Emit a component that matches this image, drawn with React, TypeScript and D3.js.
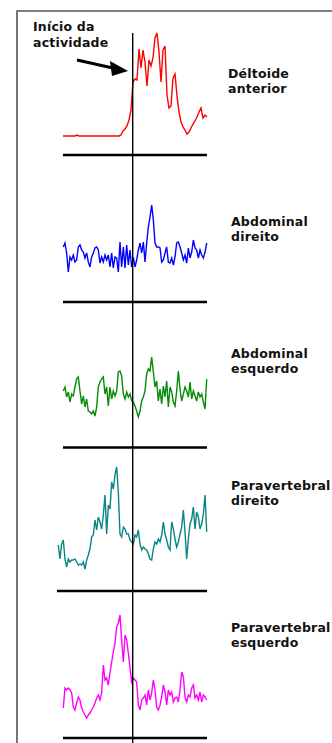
import * as d3 from 'd3';

// EMG amplitude traces (arbitrary units)
const deltoideAnterior = [
  0, 0, 0, 0, 0, 0, 0, 1, 0, 0, 0, 0, 0, 0, 0, 0, 0, 0, 0, 0, 0, 0, 0, 0, 0, 0, 0, 0, 0,
  1, 5, 7, 10, 16, 26, 54, 57, 56, 87, 68, 86, 74, 50, 76, 70, 78, 98, 103, 84,
  54, 86, 90, 41, 28, 30, 58, 62, 40, 24, 14, 9, 6, 2, 4, 8, 12, 15, 19, 24, 28, 18, 21, 19,
];
const abdominalDireito = [
  28, 32, 22, 3, 18, 15, 20, 13, 15, 28, 30, 25, 23, 17, 22, 13, 8, 18, 22, 27, 28, 25, 12, 18,
  13, 20, 15, 20, 8, 22, 7, 18, 17, 3, 33, 8, 28, 7, 30, 10, 25, 8, 18, 8, 15, 25, 32, 22, 33,
  13, 32, 48, 58, 70, 55, 32, 28, 28, 27, 13, 15, 22, 28, 13, 12, 17, 10, 18, 32, 33, 28, 22,
  15, 20, 12, 27, 17, 23, 35, 27, 25, 17, 25, 20, 17, 23, 32,
];
const abdominalEsquerdo = [
  29, 33, 23, 28, 18, 26, 24, 33, 41, 43, 29, 16, 24, 13, 21, 9, 8, 6, 9, 4, 13, 33, 38, 41,
  43, 26, 33, 14, 33, 21, 29, 24, 29, 48, 49, 44, 26, 21, 28, 23, 26, 19, 18, 14, 9, 3, 9, 19,
  23, 29, 46, 51, 49, 63, 48, 33, 39, 19, 31, 16, 34, 23, 39, 13, 33, 28, 18, 14, 29, 49, 31,
  19, 26, 33, 29, 23, 38, 21, 29, 24, 19, 28, 23, 26, 18, 11, 41,
];
const paravertebralDireito = [
  27, 13, 28, 32, 13, 5, 13, 10, 12, 12, 13, 10, 7, 8, 7, 10, 3, 12, 17, 23, 35, 37, 52, 42,
  55, 50, 43, 57, 77, 38, 67, 63, 90, 83, 97, 105, 80, 38, 35, 45, 43, 38, 38, 32, 30, 28, 37,
  35, 42, 28, 22, 25, 23, 22, 18, 13, 12, 23, 30, 28, 33, 30, 37, 50, 38, 32, 25, 22, 50, 43,
  33, 25, 30, 38, 45, 62, 40, 13, 33, 48, 53, 65, 43, 60, 55, 43, 48, 58, 77, 40,
];
const paravertebralEsquerdo = [
  14, 34, 32, 34, 32, 29, 15, 12, 19, 25, 22, 14, 10, 7, 4, 7, 9, 12, 15, 19, 24, 27, 22, 29,
  57, 42, 44, 37, 49, 60, 70, 79, 95, 99, 107, 82, 60, 87, 82, 69, 54, 40, 44, 42, 40, 17, 12,
  22, 24, 27, 17, 32, 22, 29, 42, 32, 15, 12, 17, 25, 37, 30, 17, 32, 27, 30, 20, 24, 25, 20,
  32, 50, 45, 25, 20, 27, 25, 34, 37, 24, 27, 22, 30, 20, 27, 25, 22,
];

const muscleLabels = [
  ['Déltoide', 'anterior'],
  ['Abdominal', 'direito'],
  ['Abdominal', 'esquerdo'],
  ['Paravertebral', 'direito'],
  ['Paravertebral', 'esquerdo'],
];
const annotation = ['Início da', 'actividade'];

// layout of each strip: trace span, zero level, baseline bar, label position
const panels = [
  { data: deltoideAnterior, color: '#ff0000', x0: 63, x1: 207, zero: 136, bar: 155, barX0: 63, lx: 228, ly: 78 },
  { data: abdominalDireito, color: '#0000ff', x0: 63.3, x1: 206.7, zero: 275, bar: 302, barX0: 63, lx: 231, ly: 226 },
  { data: abdominalEsquerdo, color: '#078a07', x0: 63.3, x1: 206.7, zero: 420, bar: 447.5, barX0: 63, lx: 231, ly: 358 },
  { data: paravertebralDireito, color: '#0a8585', x0: 58.3, x1: 206.7, zero: 572, bar: 591, barX0: 57, lx: 231, ly: 490 },
  { data: paravertebralEsquerdo, color: '#ff00ff', x0: 63.3, x1: 206.7, zero: 722, bar: 738, barX0: 63, lx: 231, ly: 632 },
];

const W = 332;
const H = 743;
const onsetX = 132.7;
const font = { fontFamily: 'DejaVu Sans', fontWeight: 'bold', fontSize: 12.5, letterSpacing: 0.2, fill: '#111' } as const;

export default function App() {
  return (
    <svg width={W} height={H} style={{ position: 'absolute', left: 0, top: 0 }}>
      <rect width={W} height={H} fill="#fff" />
      {/* frame */}
      <path d={`M17,${H} V11 H${W}`} fill="none" stroke="#555" strokeWidth={1.6} />

      {panels.map((p, i) => {
        const x = d3.scaleLinear().domain([0, p.data.length - 1]).range([p.x0, p.x1]);
        const y = d3.scaleLinear().domain([0, 100]).range([p.zero, p.zero - 100]);
        const line = d3.line<number>().x((_, j) => x(j)).y(d => y(d));
        return (
          <g key={i}>
            <path d={line(p.data) || ''} fill="none" stroke={p.color} strokeWidth={1.4} />
            <line x1={p.barX0} x2={207} y1={p.bar} y2={p.bar} stroke="#000" strokeWidth={2.5} />
            <text x={p.lx} y={p.ly} {...font}>
              <tspan x={p.lx}>{muscleLabels[i][0]}</tspan>
              <tspan x={p.lx} dy={15}>{muscleLabels[i][1]}</tspan>
            </text>
          </g>
        );
      })}

      {/* onset marker */}
      <line x1={onsetX} x2={onsetX} y1={33} y2={H} stroke="#000" strokeWidth={1.4} />

      <text x={33} y={31} {...font}>
        <tspan x={33}>{annotation[0]}</tspan>
        <tspan x={33} dy={16}>{annotation[1]}</tspan>
      </text>
      <line x1={77} y1={60} x2={115} y2={68.5} stroke="#000" strokeWidth={3} />
      <path d="M128,71 L110,61 L112,76 Z" fill="#000" />
    </svg>
  );
}
